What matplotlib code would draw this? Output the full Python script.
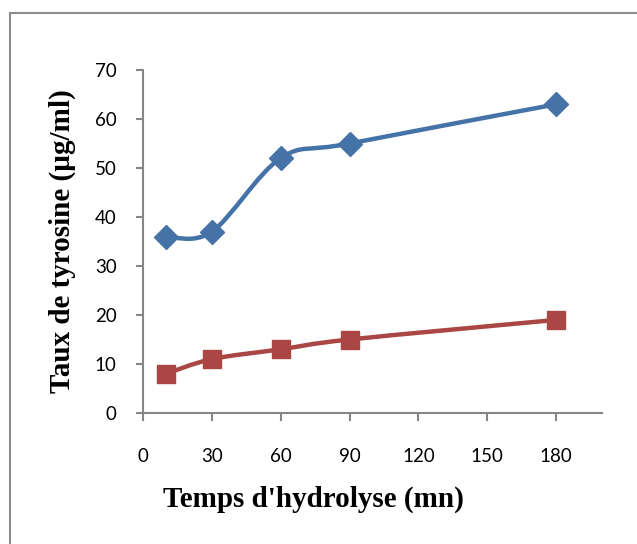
import numpy as np
import matplotlib.pyplot as plt
from matplotlib.path import Path
from matplotlib.patches import PathPatch
from matplotlib.lines import Line2D

# data
temps = [10, 30, 60, 90, 180]
serie_bleue = [36, 37, 52, 55, 63]
serie_rouge = [8, 11, 13, 15, 19]
x_ticks = [0, 30, 60, 90, 120, 150, 180]
y_ticks = [0, 10, 20, 30, 40, 50, 60, 70]

BLUE = '#4572A7'
RED = '#AA4643'
GRAY = '#868686'


def smooth_path(xs, ys):
  # Catmull-Rom like smoothing (Excel "smoothed line"), drawn as bezier curves
  pts = np.column_stack([xs, ys]).astype(float)
  ext = np.vstack([pts[0], pts, pts[-1]])
  verts = [pts[0]]
  codes = [Path.MOVETO]
  for i in range(len(pts) - 1):
    p0, p1, p2, p3 = ext[i], ext[i + 1], ext[i + 2], ext[i + 3]
    c1 = p1 + (p2 - p0) / 6.0
    c2 = p2 - (p3 - p1) / 6.0
    verts += [c1, c2, p2]
    codes += [Path.CURVE4] * 3
  return Path(verts, codes)


fig = plt.figure(figsize=(6.37, 5.44), dpi=100)
# axes: x from 143 to 602 px, y from 413 to 70 px
ax = fig.add_axes([143 / 637, 1 - 413 / 544, 459 / 637, 343 / 544])

for ys, color, marker, ms in [(serie_bleue, BLUE, 'D', 12.5), (serie_rouge, RED, 's', 13)]:
  ax.add_patch(PathPatch(smooth_path(temps, ys), facecolor='none', edgecolor=color,
                         lw=3.2, capstyle='round', zorder=2))
  ax.plot(temps, ys, linestyle='none', marker=marker, markersize=ms,
          color=color, markeredgecolor=color, zorder=3)

ax.set_xlim(0, 200)
ax.set_ylim(0, 70)
ax.set_xticks(x_ticks)
ax.set_yticks(y_ticks)

for s in ['top', 'right']:
  ax.spines[s].set_visible(False)
for s in ['left', 'bottom']:
  ax.spines[s].set_color(GRAY)
  ax.spines[s].set_linewidth(1.5)

tick_font = {'family': 'Lato', 'size': 13.5}
ax.set_xticklabels([str(v) for v in x_ticks], fontdict=tick_font)
ax.set_yticklabels([str(v) for v in y_ticks], fontdict=tick_font)
ax.tick_params(axis='x', direction='out', length=6, width=1.5, color=GRAY, pad=19)
ax.tick_params(axis='y', direction='out', length=5, width=1.5, color=GRAY, pad=14)

label_font = {'family': 'Liberation Serif', 'weight': 'bold', 'size': 21}
fig.text(313 / 637, 1 - 499 / 544, "Temps d'hydrolyse (mn)", ha='center', va='center',
         fontdict=label_font)
fig.text(62 / 637, 1 - 241 / 544, 'Taux de tyrosine (µg/ml)', ha='center', va='center',
         rotation=90, fontdict=label_font)

# chart area frame (left and top edges visible in the crop)
fig.add_artist(Line2D([9.5 / 637, 9.5 / 637], [0, 1 - 13 / 544], color='#8c8c8c', lw=1.5,
                      transform=fig.transFigure))
fig.add_artist(Line2D([9.5 / 637, 1], [1 - 13 / 544, 1 - 13 / 544], color='#8c8c8c', lw=1.5,
                      transform=fig.transFigure))

fig.savefig('out.png', dpi=100)
